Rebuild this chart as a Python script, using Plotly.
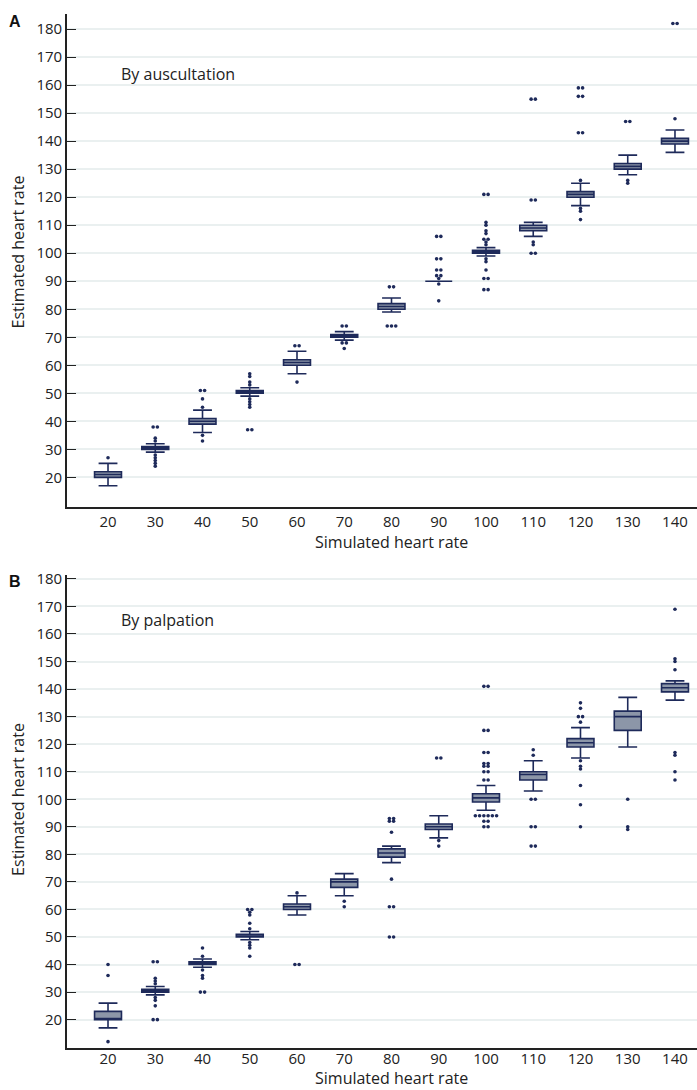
import plotly.graph_objects as go
from collections import Counter

# ---------------- data ----------------
categories = [20, 30, 40, 50, 60, 70, 80, 90, 100, 110, 120, 130, 140]
y_ticks = list(range(20, 190, 10))

# Panel A: by auscultation
a_q1 = [20, 30, 39, 50, 60, 70, 80, 90, 100, 108, 120, 130, 139]
a_med = [21, 30.5, 40, 50.5, 61, 70.5, 81, 90, 100.5, 109, 121, 131, 140]
a_q3 = [22, 31, 41, 51, 62, 71, 82, 90, 101, 110, 122, 132, 141]
a_low = [17, 29, 36, 49, 57, 69, 79, 90, 99, 106, 117, 128, 136]
a_high = [25, 32, 44, 52, 65, 72, 84, 90, 102, 111, 125, 135, 144]
a_out = [
    [27],
    [38, 38, 34, 33, 28, 27, 26, 25, 24],
    [51, 51, 48, 45, 35, 33],
    [57, 56, 54, 53, 48, 47, 46, 45, 37, 37],
    [67, 67, 54],
    [74, 74, 68, 68, 66],
    [88, 88, 74, 74, 74],
    [106, 106, 98, 98, 94, 94, 92, 92, 91, 89, 83],
    [121, 121, 111, 110, 108, 107, 105, 105, 104, 103, 98, 97, 94, 91, 91, 87, 87],
    [155, 155, 119, 119, 104, 103, 100, 100],
    [159, 159, 156, 156, 143, 143, 126, 116, 115, 112],
    [147, 147, 126, 125],
    [182, 182, 148],
]

# Panel B: by palpation
b_q1 = [20, 30, 40, 50, 60, 68, 79, 89, 99, 107, 119, 125, 139]
b_med = [20, 30.5, 40.5, 50, 61, 70, 80.5, 90, 100.5, 109, 120.5, 130, 140.5]
b_q3 = [23, 31, 41, 51, 62, 71, 82, 91, 102, 110, 122, 132, 142]
b_low = [17, 29, 39, 49, 58, 65, 77, 86, 96, 103, 115, 119, 136]
b_high = [26, 32, 42, 52, 65, 73, 83, 94, 105, 114, 126, 137, 143]
b_out = [
    [40, 36, 12],
    [41, 41, 35, 34, 33, 28, 27, 25, 20, 20],
    [46, 43, 38, 36, 35, 30, 30],
    [60, 60, 59, 58, 55, 53, 48, 47, 46, 43],
    [66, 40, 40],
    [63, 61],
    [93, 93, 92, 92, 88, 71, 61, 61, 50, 50],
    [115, 115, 85, 83],
    [141, 141, 125, 125, 117, 117, 113, 113, 112, 112, 110, 110, 107, 107,
     94, 94, 94, 94, 94, 94, 92, 92, 90, 90],
    [118, 116, 100, 100, 90, 90, 83, 83],
    [135, 133, 130, 130, 128, 114, 112, 111, 105, 98, 90],
    [100, 90, 89],
    [169, 151, 150, 147, 117, 116, 110, 107],
]

# ---------------- styling ----------------
NAVY = "#1e2a5a"
FILL = "#8c96a8"
FONT = "Open Sans"
BOX_W = 5.7
DUP_STEP = 0.9


def outlier_xy(outs):
    xs, ys = [], []
    for cat, vals in zip(categories, outs):
        for v, n in Counter(vals).items():
            for i in range(n):
                xs.append(cat + (i - (n - 1) / 2) * DUP_STEP)
                ys.append(v)
    return xs, ys


fig = go.Figure()

panels = [
    ("x", "y", a_q1, a_med, a_q3, a_low, a_high, a_out),
    ("x2", "y2", b_q1, b_med, b_q3, b_low, b_high, b_out),
]
for xa, ya, q1, med, q3, lo, hi, outs in panels:
    fig.add_trace(go.Box(
        x=categories, q1=q1, median=med, q3=q3,
        lowerfence=lo, upperfence=hi,
        width=BOX_W, whiskerwidth=0.7,
        fillcolor=FILL, line=dict(color=NAVY, width=1.6),
        boxpoints=False, showlegend=False, hoverinfo="skip",
        xaxis=xa, yaxis=ya,
    ))
    ox, oy = outlier_xy(outs)
    fig.add_trace(go.Scatter(
        x=ox, y=oy, mode="markers",
        marker=dict(color=NAVY, size=3.6),
        showlegend=False, hoverinfo="skip",
        xaxis=xa, yaxis=ya,
    ))

H = 1090
W = 697
x_dom = [67 / W, 1]
a_dom = [1 - 503 / H, 1 - 7 / H]
b_dom = [1 - 1048 / H, 1 - 572 / H]

tickfont = dict(family=FONT, size=15, color="#222")
xaxis_common = dict(
    range=[11.32, 144.66], tickvals=categories, ticktext=[str(c) for c in categories],
    showgrid=False, zeroline=False, showline=True, linecolor="#222", linewidth=1.6,
    ticks="", tickfont=tickfont, fixedrange=True,
)
yaxis_common = dict(
    tickvals=y_ticks, showgrid=True, gridcolor="#eaf0f0", gridwidth=1.5,
    zeroline=False, showline=True, linecolor="#222", linewidth=1.6,
    ticks="inside", ticklen=9, tickcolor="#222", tickwidth=1.2,
    tickfont=tickfont, fixedrange=True,
)

fig.update_layout(
    width=W, height=H,
    margin=dict(l=0, r=0, t=0, b=0),
    paper_bgcolor="white", plot_bgcolor="white",
    xaxis=dict(domain=x_dom, anchor="y", ticklabelstandoff=0, **xaxis_common),
    yaxis=dict(domain=a_dom, anchor="x", range=[9.5, 185.4], **yaxis_common),
    xaxis2=dict(domain=x_dom, anchor="y2", ticklabelstandoff=-4, **xaxis_common),
    yaxis2=dict(domain=b_dom, anchor="x2", range=[9.6, 181.3], **yaxis_common),
)

txt = dict(family=FONT, size=16, color="#222")
lab = dict(family="Liberation Sans", size=16, color="#111")
ann = [
    dict(text="<b>A</b>", x=15 / W, y=1 - 15 / H, font=lab),
    dict(text="<b>B</b>", x=15 / W, y=1 - 578 / H, font=lab),
    dict(text="Simulated heart rate", x=391 / W, y=1 - 538 / H, font=txt),
    dict(text="Simulated heart rate", x=391 / W, y=1 - 1078 / H, font=txt),
    dict(text="Estimated heart rate", x=18 / W, y=1 - 247 / H, font=txt, textangle=-90),
    dict(text="Estimated heart rate", x=18 / W, y=1 - 798 / H, font=txt, textangle=-90),
    dict(text="By auscultation", x=120 / W, y=1 - 67 / H, font=txt, xanchor="left"),
    dict(text="By palpation", x=120 / W, y=1 - 617 / H, font=txt, xanchor="left"),
]
for a in ann:
    a.setdefault("xanchor", "center")
    fig.add_annotation(xref="paper", yref="paper", yanchor="middle", showarrow=False,
                       borderpad=0, **a)

fig.write_html("out.html")
